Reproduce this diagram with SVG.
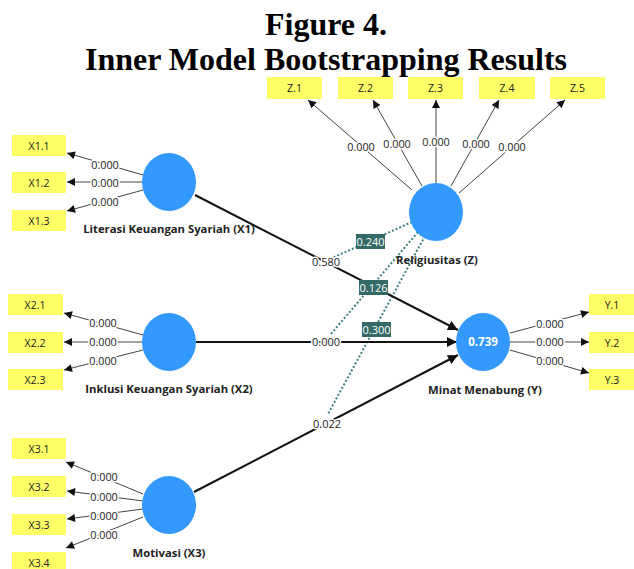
<svg xmlns="http://www.w3.org/2000/svg" width="634" height="569" viewBox="0 0 634 569">
  <style>
    .title { font-family: "Liberation Serif", "Times New Roman", serif; font-weight: bold; font-size: 32px; fill: #000; text-anchor: middle; }
    .ind rect { fill: #ffff66; }
    .ind text { font-family: "Open Sans", "Noto Sans", sans-serif; font-size: 10.5px; fill: #222; text-anchor: middle; }
    .lv ellipse { fill: #3399ff; }
    .lv text.name { font-family: "Open Sans", "Noto Sans", sans-serif; font-weight: bold; font-size: 11.3px; fill: #222; text-anchor: middle; }
    .lv text.r2 { font-family: "Open Sans", "Noto Sans", sans-serif; font-weight: bold; font-size: 11.5px; fill: #fff; text-anchor: middle; }
    .load { stroke: #444; stroke-width: 1; fill: none; marker-end: url(#aSmall); }
    .path { stroke: #111; stroke-width: 2; fill: none; marker-end: url(#aBig); }
    .mod { stroke: #3f7f7f; stroke-width: 2; stroke-dasharray: 2 2; fill: none; }
    .val { font-family: "Open Sans", "Noto Sans", sans-serif; font-size: 10.8px; fill: #222; text-anchor: middle; stroke: #fff; stroke-width: 3; paint-order: stroke; }
    .pval { font-family: "Open Sans", "Noto Sans", sans-serif; font-size: 11px; fill: #222; text-anchor: middle; stroke: #fff; stroke-width: 3; paint-order: stroke; }
    .mbox rect { fill: #346a68; }
    .mbox text { font-family: "Open Sans", "Noto Sans", sans-serif; font-size: 11px; fill: #fff; text-anchor: middle; }
  </style>
  <defs>
    <marker id="aSmall" viewBox="0 0 10 10" refX="10" refY="5" markerWidth="9" markerHeight="8" markerUnits="userSpaceOnUse" orient="auto">
      <path d="M0,0 L10,5 L0,10 z" fill="#111"/>
    </marker>
    <marker id="aBig" viewBox="0 0 10 10" refX="10" refY="5" markerWidth="13" markerHeight="10" markerUnits="userSpaceOnUse" orient="auto">
      <path d="M0,0 L10,5 L0,10 z" fill="#111"/>
    </marker>
  </defs>

  <text class="title" x="326" y="35">Figure 4.</text>
  <text class="title" x="326" y="70">Inner Model Bootstrapping Results</text>

  <!-- connectors -->
  <g id="connectors">
    <!-- outer loadings X1 -->
    <line class="load" x1="143" y1="175" x2="67" y2="153"/>
    <line class="load" x1="143" y1="182" x2="67" y2="182"/>
    <line class="load" x1="143" y1="190" x2="67" y2="211"/>
    <!-- outer loadings X2 -->
    <line class="load" x1="143" y1="335" x2="64" y2="313"/>
    <line class="load" x1="143" y1="342" x2="64" y2="342"/>
    <line class="load" x1="143" y1="350" x2="64" y2="370"/>
    <!-- outer loadings X3 -->
    <line class="load" x1="143" y1="494" x2="66" y2="462"/>
    <line class="load" x1="143" y1="501" x2="67" y2="491"/>
    <line class="load" x1="143" y1="509" x2="67" y2="519"/>
    <line class="load" x1="143" y1="517" x2="66" y2="548"/>
    <!-- outer loadings Z -->
    <line class="load" x1="412" y1="190" x2="308" y2="100"/>
    <line class="load" x1="422" y1="186" x2="373" y2="100"/>
    <line class="load" x1="436" y1="183" x2="436" y2="100"/>
    <line class="load" x1="451" y1="186" x2="499" y2="100"/>
    <line class="load" x1="459" y1="193" x2="565" y2="100"/>
    <!-- outer loadings Y -->
    <line class="load" x1="510" y1="333" x2="589" y2="312"/>
    <line class="load" x1="510" y1="342" x2="589" y2="342"/>
    <line class="load" x1="510" y1="350" x2="589" y2="373"/>

    <!-- moderating effects -->
    <line class="mod" x1="412" y1="222" x2="332" y2="258"/>
    <line class="mod" x1="418" y1="232" x2="330" y2="335"/>
    <line class="mod" x1="425" y1="236" x2="328" y2="414"/>

    <!-- structural paths -->
    <line class="path" x1="195" y1="195" x2="458" y2="330"/>
    <line class="path" x1="196" y1="342" x2="457" y2="342"/>
    <line class="path" x1="194" y1="492" x2="458" y2="355"/>

    <!-- loading values -->
    <text class="val" x="105" y="169">0.000</text>
    <text class="val" x="105" y="187">0.000</text>
    <text class="val" x="105" y="206">0.000</text>
    <text class="val" x="103" y="327">0.000</text>
    <text class="val" x="103" y="346">0.000</text>
    <text class="val" x="103" y="365">0.000</text>
    <text class="val" x="104" y="481">0.000</text>
    <text class="val" x="104" y="501">0.000</text>
    <text class="val" x="104" y="520">0.000</text>
    <text class="val" x="104" y="539">0.000</text>
    <text class="val" x="361" y="151">0.000</text>
    <text class="val" x="397" y="148">0.000</text>
    <text class="val" x="436" y="146">0.000</text>
    <text class="val" x="476" y="148">0.000</text>
    <text class="val" x="512" y="151">0.000</text>
    <text class="val" x="550" y="328">0.000</text>
    <text class="val" x="550" y="346">0.000</text>
    <text class="val" x="550" y="365">0.000</text>

    <!-- path coefficients p-values -->
    <text class="pval" x="326" y="266">0.580</text>
    <text class="pval" x="326" y="346">0.000</text>
    <text class="pval" x="327" y="428">0.022</text>

    <g class="mbox">
      <rect x="356" y="234" width="29" height="15"/>
      <text x="370.5" y="245.5">0.240</text>
      <rect x="359" y="280" width="29" height="15"/>
      <text x="373.5" y="291.5">0.126</text>
      <rect x="362" y="322" width="29" height="15"/>
      <text x="376.5" y="333.5">0.300</text>
    </g>
  </g>

  <!-- latent variables -->
  <g id="X1" class="lv">
    <ellipse cx="169" cy="182" rx="27" ry="29"/>
    <text class="name" x="169" y="233">Literasi Keuangan Syariah (X1)</text>
  </g>
  <g id="X2" class="lv">
    <ellipse cx="169" cy="342" rx="27" ry="29"/>
    <text class="name" x="169" y="393">Inklusi Keuangan Syariah (X2)</text>
  </g>
  <g id="X3" class="lv">
    <ellipse cx="169" cy="505" rx="27" ry="29"/>
    <text class="name" x="169" y="557">Motivasi (X3)</text>
  </g>
  <g id="Z" class="lv">
    <ellipse cx="436" cy="212" rx="27" ry="29"/>
    <text class="name" x="437" y="264">Religiusitas (Z)</text>
  </g>
  <g id="Y" class="lv">
    <ellipse cx="483" cy="342" rx="27" ry="29"/>
    <text class="r2" x="483" y="346">0.739</text>
    <text class="name" x="485" y="394">Minat Menabung (Y)</text>
  </g>

  <!-- indicators -->
  <g id="X1.1" class="ind"><rect x="12" y="135" width="54" height="21"/><text x="39" y="149.5">X1.1</text></g>
  <g id="X1.2" class="ind"><rect x="12" y="172" width="54" height="21"/><text x="39" y="186.5">X1.2</text></g>
  <g id="X1.3" class="ind"><rect x="12" y="210" width="54" height="21"/><text x="39" y="224.5">X1.3</text></g>

  <g id="X2.1" class="ind"><rect x="8" y="294" width="55" height="21"/><text x="35" y="308.5">X2.1</text></g>
  <g id="X2.2" class="ind"><rect x="8" y="332" width="55" height="21"/><text x="35" y="346.5">X2.2</text></g>
  <g id="X2.3" class="ind"><rect x="8" y="369" width="55" height="21"/><text x="35" y="383.5">X2.3</text></g>

  <g id="X3.1" class="ind"><rect x="12" y="438" width="54" height="21"/><text x="39" y="452.5">X3.1</text></g>
  <g id="X3.2" class="ind"><rect x="12" y="476" width="54" height="21"/><text x="39" y="490.5">X3.2</text></g>
  <g id="X3.3" class="ind"><rect x="12" y="514" width="54" height="21"/><text x="39" y="528.5">X3.3</text></g>
  <g id="X3.4" class="ind"><rect x="12" y="552" width="54" height="21"/><text x="39" y="566.5">X3.4</text></g>

  <g id="Z.1" class="ind"><rect x="267" y="77" width="55" height="22"/><text x="294.5" y="92">Z.1</text></g>
  <g id="Z.2" class="ind"><rect x="338" y="77" width="55" height="22"/><text x="365.5" y="92">Z.2</text></g>
  <g id="Z.3" class="ind"><rect x="408" y="77" width="55" height="22"/><text x="435.5" y="92">Z.3</text></g>
  <g id="Z.4" class="ind"><rect x="479" y="77" width="56" height="22"/><text x="507" y="92">Z.4</text></g>
  <g id="Z.5" class="ind"><rect x="550" y="77" width="55" height="22"/><text x="577.5" y="92">Z.5</text></g>

  <g id="Y.1" class="ind"><rect x="589" y="294" width="45" height="21"/><text x="612" y="308.5">Y.1</text></g>
  <g id="Y.2" class="ind"><rect x="589" y="332" width="45" height="21"/><text x="612" y="346.5">Y.2</text></g>
  <g id="Y.3" class="ind"><rect x="589" y="369" width="45" height="21"/><text x="612" y="383.5">Y.3</text></g>
</svg>
